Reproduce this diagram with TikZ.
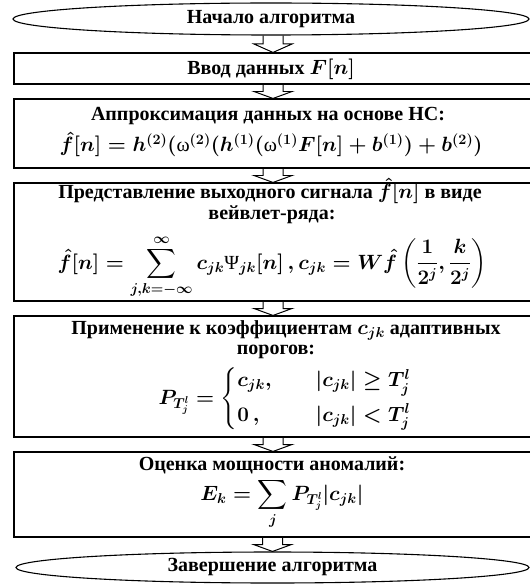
\documentclass[tikz,border=0pt]{standalone}
\usepackage{amsmath}
\usepackage{fontspec}
\setmainfont{Liberation Serif}
\usetikzlibrary{shapes.geometric,calc}
\newcommand\fsz{\fontsize{20bp}{23bp}\selectfont}
\newcommand\gr[1]{\text{\mdseries #1}}
\tikzset{
  box/.style={draw, rectangle, line width=1.1pt, minimum width=518bp, inner sep=0pt},
  term/.style={draw, ellipse, line width=1.1pt, inner sep=0pt, font=\fsz\bfseries},
  txt/.style={inner sep=0pt, anchor=base, font=\fsz\bfseries\boldmath},
  mth/.style={inner sep=0pt, font=\fsz\bfseries\boldmath},
  blk/.style={draw, line width=1pt, line join=miter},
}
\newcommand\blockarrow[2]{%
  \draw[blk] let \p1=(#2.north |- #1.south), \p2=(#2.north) in
    (\x1-10bp,\y1) -- (\x1-10bp,{(\y1+\y2)/2}) -- (\x1-19bp,{(\y1+\y2)/2})
    -- (\p2) -- (\x1+19bp,{(\y1+\y2)/2}) -- (\x1+10bp,{(\y1+\y2)/2}) -- (\x1+10bp,\y1);}
\begin{document}
\begin{tikzpicture}[x=1bp,y=-1bp]
\useasboundingbox (0,0) rectangle (530,584);
% terminals and boxes
\node[term, minimum width=516bp, minimum height=32bp] (start) at (271,19) {Начало алгоритма};
\node[box, minimum height=31bp]  (b1) at (273,68.5) {};
\node[box, minimum height=69bp]  (b2) at (273,133.5) {};
\node[box, minimum height=118bp] (b3) at (273,242) {};
\node[box, minimum height=121bp] (b4) at (273,376.5) {};
\node[box, minimum height=85bp]  (b5) at (273,494.5) {};
\node[term, minimum width=513bp, minimum height=31bp] (stop) at (272.5,567.5) {Завершение алгоритма};
% block arrows
\blockarrow{start}{b1}
\blockarrow{b1}{b2}
\blockarrow{b2}{b3}
\blockarrow{b3}{b4}
\blockarrow{b4}{b5}
\blockarrow{b5}{stop}
% texts
\node[txt] (t1) at (271,75) {Ввод данных $F[n]$};
\node[txt] (t2a) at (268,121) {Аппроксимация данных на основе НС:};
\node[txt] (t2b) at (271,152) {$\hat{f}[n] = h^{(2)}(\gr{ω}^{(2)}(h^{(1)}(\gr{ω}^{(1)}F[n] + b^{(1)}) + b^{(2)})$};
\node[txt] (t3a) at (270,198) {Представление выходного сигнала $\hat{f}[n]$ в виде};
\node[txt] (t3b) at (272,219) {вейвлет-ряда:};
\node[txt] (t3c) at (272,269) {$\displaystyle \hat{f}[n] = \sum_{j,k=-\infty}^{\infty} c_{jk}\gr{Ψ}_{jk}[n]\,, c_{jk} = W\hat{f}\left(\frac{1}{2^j},\frac{k}{2^j}\right)$};
\node[txt] (t4a) at (286,334) {Применение к коэффициентам $c_{jk}$ адаптивных};
\node[txt] (t4b) at (276,354) {порогов:};
\node[mth] (t4c) at (285,399) {$P_{T_j^l} = \begin{cases} c_{jk}, & \hspace{1.2em}|c_{jk}| \ge T_j^l\\[7bp] 0\,, & \hspace{1.2em}|c_{jk}| < T_j^l\end{cases}$};
\node[txt] (t5a) at (272,470) {Оценка мощности аномалий:};
\node[mth] (t5b) at (282,504) {$\displaystyle E_k = \sum_j P_{T_j^l}|c_{jk}|$};
\end{tikzpicture}
\end{document}
